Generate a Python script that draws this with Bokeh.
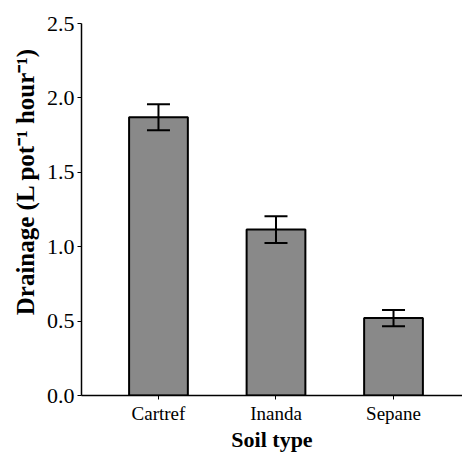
from bokeh.plotting import figure
from bokeh.models import (ColumnDataSource, Range1d, FixedTicker, Whisker, TeeHead,
                          PrintfTickFormatter)
from bokeh.embed import file_html
from bokeh.resources import INLINE

categories = ["Cartref", "Inanda", "Sepane"]
drainage = [1.87, 1.115, 0.52]
errors = [0.088, 0.09, 0.055]
y_ticks = [0.0, 0.5, 1.0, 1.5, 2.0, 2.5]
x_title = "Soil type"
y_title = "Drainage (L pot\u207b\u00b9 hour\u207b\u00b9)"

xpos = [i + 1 for i in range(len(categories))]
src = ColumnDataSource(dict(
    x=xpos,
    top=drainage,
    upper=[v + e for v, e in zip(drainage, errors)],
    lower=[v - e for v, e in zip(drainage, errors)],
))

p = figure(width=462, height=454, output_backend="svg", toolbar_location=None,
           x_range=Range1d(0.345, 3.587), y_range=Range1d(0, 2.5),
           min_border_left=81, min_border_right=0, min_border_top=23,
           min_border_bottom=57)
p.outline_line_color = None
p.xgrid.visible = False
p.ygrid.visible = False
p.background_fill_color = "white"
p.border_fill_color = "white"

p.vbar(x="x", top="top", bottom=0, width=0.5, source=src,
       fill_color="#898989", line_color="black", line_width=2)

w = Whisker(base="x", upper="upper", lower="lower", source=src,
            line_color="black", line_width=2, level="overlay",
            upper_head=TeeHead(size=23, line_width=2, line_color="black"),
            lower_head=TeeHead(size=23, line_width=2, line_color="black"))
p.add_layout(w)

font = "Liberation Serif"
# x axis
p.xaxis.ticker = FixedTicker(ticks=xpos)
p.xaxis.major_label_overrides = {x: c for x, c in zip(xpos, categories)}
p.xaxis.minor_tick_line_color = None
p.xaxis.major_tick_out = 4
p.xaxis.major_tick_in = 0
p.xaxis.major_label_standoff = 3
p.xaxis.axis_line_width = 1.5
p.xaxis.axis_line_color = "black"
p.xaxis.major_tick_line_color = "black"
p.xaxis.major_label_text_font = font
p.xaxis.major_label_text_font_size = "19px"
p.xaxis.major_label_text_color = "black"
p.xaxis.axis_label = x_title
p.xaxis.axis_label_text_font = font
p.xaxis.axis_label_text_font_style = "bold"
p.xaxis.axis_label_text_font_size = "22px"
p.xaxis.axis_label_text_color = "black"
p.xaxis.axis_label_standoff = 0

# y axis
p.yaxis.ticker = FixedTicker(ticks=y_ticks)
p.yaxis.formatter = PrintfTickFormatter(format="%.1f")
p.yaxis.minor_tick_line_color = None
p.yaxis.major_tick_out = 4
p.yaxis.major_tick_in = 0
p.yaxis.major_label_standoff = 3
p.yaxis.axis_line_width = 1.5
p.yaxis.axis_line_color = "black"
p.yaxis.major_tick_line_color = "black"
p.yaxis.major_label_text_font = font
p.yaxis.major_label_text_font_size = "22px"
p.yaxis.major_label_text_color = "black"
p.yaxis.axis_label = "\u00a0" * 9 + y_title
p.yaxis.axis_label_text_font = font
p.yaxis.axis_label_text_font_style = "bold"
p.yaxis.axis_label_text_font_size = "25px"
p.yaxis.axis_label_text_color = "black"
p.yaxis.axis_label_standoff = 5

open("out.html", "w").write(file_html(p, INLINE))
